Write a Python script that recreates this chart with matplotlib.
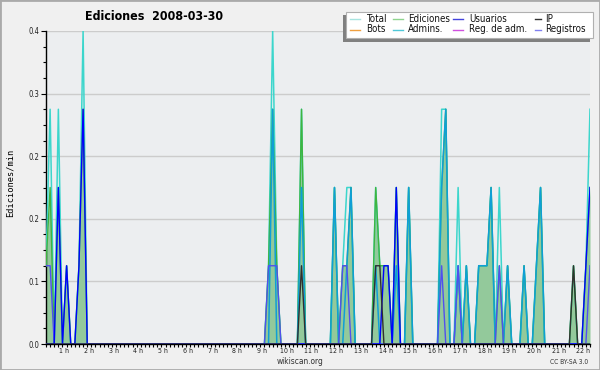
import numpy as np
import matplotlib
matplotlib.use('Agg')
import matplotlib.pyplot as plt
from matplotlib.patches import Rectangle
from matplotlib.lines import Line2D
from matplotlib.ticker import MultipleLocator
from matplotlib.transforms import ScaledTranslation

# edits per minute, one value every 10 minutes (00:00 -> 22:00), 12 values per row = 2 hours
total = [
    0.1, 0.3, 0, 0.3, 0, 0.1, 0, 0, 0.1, 0.4, 0, 0,
    0, 0, 0, 0, 0, 0, 0, 0, 0, 0, 0, 0,
    0, 0, 0, 0, 0, 0, 0, 0, 0, 0, 0, 0,
    0, 0, 0, 0, 0, 0, 0, 0, 0, 0, 0, 0,
    0, 0, 0, 0, 0, 0, 0.1, 0.4, 0.1, 0, 0, 0,
    0, 0, 0.3, 0, 0, 0, 0, 0, 0, 0, 0.2, 0,
    0.1, 0.2, 0.2, 0, 0, 0, 0, 0, 0.2, 0.1, 0.1, 0.1,
    0, 0.2, 0, 0, 0.2, 0, 0, 0, 0, 0, 0, 0,
    0.3, 0.3, 0, 0, 0.2, 0, 0.1, 0, 0, 0.1, 0.1, 0.1,
    0.2, 0, 0.2, 0, 0.1, 0, 0, 0, 0.1, 0, 0, 0.1,
    0.2, 0, 0, 0, 0, 0, 0, 0, 0.1, 0, 0, 0.1,
    0.3,
]
edits = [
    0.1, 0.2, 0, 0.2, 0, 0.1, 0, 0, 0.1, 0.3, 0, 0,
    0, 0, 0, 0, 0, 0, 0, 0, 0, 0, 0, 0,
    0, 0, 0, 0, 0, 0, 0, 0, 0, 0, 0, 0,
    0, 0, 0, 0, 0, 0, 0, 0, 0, 0, 0, 0,
    0, 0, 0, 0, 0, 0, 0.1, 0.3, 0.1, 0, 0, 0,
    0, 0, 0.3, 0, 0, 0, 0, 0, 0, 0, 0.2, 0,
    0.1, 0.1, 0.2, 0, 0, 0, 0, 0, 0.2, 0.1, 0.1, 0.1,
    0, 0.2, 0, 0, 0.2, 0, 0, 0, 0, 0, 0, 0,
    0.2, 0.3, 0, 0, 0.1, 0, 0.1, 0, 0, 0.1, 0.1, 0.1,
    0.2, 0, 0.1, 0, 0.1, 0, 0, 0, 0.1, 0, 0, 0.1,
    0.2, 0, 0, 0, 0, 0, 0, 0, 0.1, 0, 0, 0.1,
    0.2,
]
admins = [
    0, 0, 0, 0, 0, 0, 0, 0, 0, 0, 0, 0,
    0, 0, 0, 0, 0, 0, 0, 0, 0, 0, 0, 0,
    0, 0, 0, 0, 0, 0, 0, 0, 0, 0, 0, 0,
    0, 0, 0, 0, 0, 0, 0, 0, 0, 0, 0, 0,
    0, 0, 0, 0, 0, 0, 0, 0.3, 0, 0, 0, 0,
    0, 0, 0.2, 0, 0, 0, 0, 0, 0, 0, 0.2, 0,
    0, 0.1, 0.2, 0, 0, 0, 0, 0, 0.1, 0, 0, 0,
    0, 0.1, 0, 0, 0.2, 0, 0, 0, 0, 0, 0, 0,
    0.2, 0.3, 0, 0, 0.1, 0, 0.1, 0, 0, 0.1, 0.1, 0.1,
    0.2, 0, 0, 0, 0.1, 0, 0, 0, 0.1, 0, 0, 0.1,
    0.2, 0, 0, 0, 0, 0, 0, 0, 0, 0, 0, 0,
    0,
]
users = [
    0, 0, 0, 0.2, 0, 0.1, 0, 0, 0.1, 0.3, 0, 0,
    0, 0, 0, 0, 0, 0, 0, 0, 0, 0, 0, 0,
    0, 0, 0, 0, 0, 0, 0, 0, 0, 0, 0, 0,
    0, 0, 0, 0, 0, 0, 0, 0, 0, 0, 0, 0,
    0, 0, 0, 0, 0, 0, 0, 0, 0, 0, 0, 0,
    0, 0, 0, 0, 0, 0, 0, 0, 0, 0, 0, 0,
    0, 0, 0, 0, 0, 0, 0, 0, 0, 0, 0.1, 0.1,
    0, 0.2, 0, 0, 0, 0, 0, 0, 0, 0, 0, 0,
    0, 0, 0, 0, 0, 0, 0, 0, 0, 0, 0, 0,
    0, 0, 0, 0, 0, 0, 0, 0, 0, 0, 0, 0,
    0, 0, 0, 0, 0, 0, 0, 0, 0, 0, 0, 0.1,
    0.2,
]
registros = [
    0.1, 0.1, 0, 0, 0, 0, 0, 0, 0, 0, 0, 0,
    0, 0, 0, 0, 0, 0, 0, 0, 0, 0, 0, 0,
    0, 0, 0, 0, 0, 0, 0, 0, 0, 0, 0, 0,
    0, 0, 0, 0, 0, 0, 0, 0, 0, 0, 0, 0,
    0, 0, 0, 0, 0, 0, 0.1, 0.1, 0.1, 0, 0, 0,
    0, 0, 0, 0, 0, 0, 0, 0, 0, 0, 0, 0,
    0.1, 0.1, 0, 0, 0, 0, 0, 0, 0, 0, 0, 0,
    0, 0, 0, 0, 0, 0, 0, 0, 0, 0, 0, 0,
    0.1, 0, 0, 0, 0.1, 0, 0, 0, 0, 0, 0, 0,
    0, 0, 0.1, 0, 0, 0, 0, 0, 0, 0, 0, 0,
    0, 0, 0, 0, 0, 0, 0, 0, 0, 0, 0, 0,
    0.1,
]
ip = [
    0, 0, 0, 0, 0, 0, 0, 0, 0, 0, 0, 0,
    0, 0, 0, 0, 0, 0, 0, 0, 0, 0, 0, 0,
    0, 0, 0, 0, 0, 0, 0, 0, 0, 0, 0, 0,
    0, 0, 0, 0, 0, 0, 0, 0, 0, 0, 0, 0,
    0, 0, 0, 0, 0, 0, 0, 0, 0, 0, 0, 0,
    0, 0, 0.1, 0, 0, 0, 0, 0, 0, 0, 0, 0,
    0, 0, 0, 0, 0, 0, 0, 0, 0.1, 0.1, 0, 0,
    0, 0, 0, 0, 0, 0, 0, 0, 0, 0, 0, 0,
    0, 0, 0, 0, 0, 0, 0, 0, 0, 0, 0, 0,
    0, 0, 0, 0, 0, 0, 0, 0, 0, 0, 0, 0,
    0, 0, 0, 0, 0, 0, 0, 0, 0.1, 0, 0, 0,
    0,
]

hour_ticks = list(range(1, 23))
hour_labels = [f'{h} h' for h in hour_ticks]

legend_names = ['Total', 'Ediciones', 'Usuarios', 'IP',
                'Bots', 'Admins.', 'Reg. de adm.', 'Registros']
legend_colors = ['#a8e4e0', '#8fd48f', '#4444dd', '#333333',
                 '#f0a040', '#50c8d8', '#d050e0', '#8080f0']

hours = np.arange(len(total)) / 6

fig = plt.figure(figsize=(6, 3.7), dpi=100, facecolor='#f0f0f0')
ax = fig.add_axes([46 / 600, 26 / 370, 544 / 600, 313 / 370])
ax.set_facecolor('#eceef0')

ax.fill_between(hours, edits, color='#93c99b', lw=0, zorder=2)
ax.plot(hours, total, color='#3cd6cc', lw=1.1, zorder=3)
ax.plot(hours, edits, color='#3fb53f', lw=1.0, zorder=3)
ax.plot(hours, admins, color='#0f9fd6', lw=1.1, zorder=4)
ax.plot(hours, registros, color='#5050ee', lw=1.0, zorder=4)
ax.plot(hours, users, color='#0000ff', lw=1.0, zorder=5)
ax.plot(hours, ip, color='#303030', lw=1.0, zorder=5)

ax.set_xlim(0, 22)
ax.set_ylim(0, 0.4)

yt = np.arange(0, 0.41, 0.08)
ax.set_yticks(yt)
ax.set_yticklabels(['%.1f' % v for v in yt])
ax.yaxis.set_minor_locator(MultipleLocator(0.02))
ax.set_xticks(hour_ticks)
ax.set_xticklabels(hour_labels)
ax.set_xticks(np.arange(0, 22.01, 1 / 6), minor=True)

ax.tick_params(axis='x', which='both', length=2.2, width=0.8, pad=1,
               labelsize=5)
ax.tick_params(axis='y', which='major', length=3.6, width=0.8, pad=1,
               labelsize=5.5)
ax.tick_params(axis='y', which='minor', length=2.2, width=0.8)
for lbl in ax.get_xticklabels() + ax.get_yticklabels():
    lbl.set_fontstretch('condensed')
    lbl.set_color('#222222')
for lbl in ax.get_xticklabels():
    lbl.set_transform(lbl.get_transform()
                      + ScaledTranslation(-6.5 / 100, 0, fig.dpi_scale_trans))

ax.yaxis.grid(True, color='#cccccc', lw=1)
ax.set_axisbelow(True)
for s in ['top', 'right']:
    ax.spines[s].set_visible(False)
for s in ['left', 'bottom']:
    ax.spines[s].set_color('black')
    ax.spines[s].set_linewidth(1)


def fx(x):
    return x / 600


def fy(y):
    return 1 - y / 370


fig.text(fx(154), fy(16), 'Ediciones  2008-03-30', ha='center', va='center',
         size=8.9, weight='bold', fontstretch='condensed')
fig.text(fx(10), fy(183), 'Ediciones/min', rotation=90, ha='center',
         va='center', size=6.2, family='DejaVu Sans Mono')
fig.text(fx(300), fy(361), 'wikiscan.org', ha='center', va='center',
         size=6, color='#333333', fontstretch='condensed')
fig.text(fx(569), fy(362), 'CC BY-SA 3.0', ha='center', va='center',
         size=4.8, color='#333333', fontstretch='condensed')

# legend box with shadow
fig.patches.append(Rectangle((fx(343), fy(41.7)), (590 - 343) / 600, 26.4 / 370,
                             transform=fig.transFigure, facecolor='#808080',
                             edgecolor='none', zorder=10))
fig.patches.append(Rectangle((fx(346), fy(38.3)), (593 - 346) / 600, 26 / 370,
                             transform=fig.transFigure, facecolor='white',
                             edgecolor='#b0b0b0', lw=0.8, zorder=11))
swatch_x = [(350, 360, 366), (392.7, 402.7, 408.3), (453, 463, 469), (535, 541, 545)]
row_y = [19, 29.5]
for i, (name, col) in enumerate(zip(legend_names, legend_colors)):
    r, c = divmod(i, 4)
    x0, x1, xt = swatch_x[c]
    y = row_y[r]
    fig.lines.append(Line2D([fx(x0), fx(x1)], [fy(y), fy(y)], color=col, lw=1,
                            transform=fig.transFigure, zorder=12))
    fig.text(fx(xt), fy(y), name, ha='left', va='center', size=7,
             fontstretch='condensed', zorder=12, color='#111111')

# outer frame
fig.patches.append(Rectangle((0, 0), 1, 1, transform=fig.transFigure,
                             facecolor='none', edgecolor='#aaaaaa', lw=2,
                             zorder=20))

fig.savefig('out.png', dpi=100, facecolor=fig.get_facecolor())
